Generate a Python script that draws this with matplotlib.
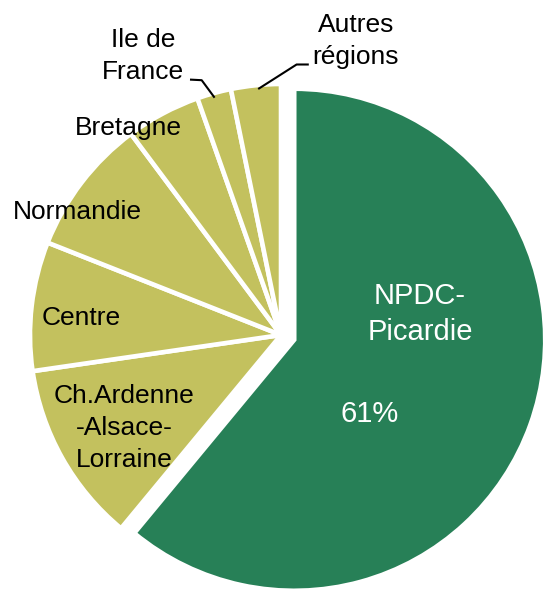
import matplotlib
matplotlib.use("Agg")
import matplotlib.pyplot as plt

# Region shares (%), clockwise from 12 o'clock
regions = ["NPDC-\nPicardie", "Ch.Ardenne\n-Alsace-\nLorraine", "Centre", "Normandie",
           "Bretagne", "Ile de\nFrance", "Autres\nrégions"]
shares = [61, 11.7, 8.3, 8.8, 4.8, 2.2, 3.2]

green = "#278057"
olive = "#C3C15E"
colors = [green] + [olive] * (len(shares) - 1)
explode = [0.056] + [0] * (len(shares) - 1)

W, H = 545, 589
CX, CY, R = 281, 335, 251  # pie centre / radius in pixels


def px(x, y):
    # pixel (from top-left) -> data coords
    return (x - CX) / R, (CY - y) / R


plt.rcParams["font.family"] = ["Liberation Sans", "DejaVu Sans"]

fig = plt.figure(figsize=(W / 100, H / 100), dpi=100)
ax = fig.add_axes([0, 0, 1, 1])

ax.pie(shares, explode=explode, colors=colors, startangle=90, counterclock=False,
       wedgeprops=dict(edgecolor="white", linewidth=3.3))
ax.set_aspect("auto")
ax.set_xlim(-CX / R, (W - CX) / R)
ax.set_ylim(-(H - CY) / R, CY / R)
ax.axis("off")

# label positions (centre x, baseline of last line)
label_pos = [(420, 340), (124, 467), (81, 325), (77, 219), (128, 135), (143, 79.5), (356, 64.5)]
for name, (x, y), i in zip(regions, label_pos, range(len(regions))):
    if i == 0:
        ax.text(*px(x, y), name, ha="center", va="baseline", fontsize=21,
                color="white", linespacing=1.38)
    else:
        ax.text(*px(x, y), name, ha="center", va="baseline", fontsize=19,
                color="black", linespacing=1.43)

ax.text(*px(370, 422.5), f"{shares[0]:.0f}%", ha="center", va="baseline",
        fontsize=21, color="white")

# leader lines for the small slices
leaders = [
    [(190, 79.6), (201.7, 80.2), (214.6, 97.7)],
    [(308.8, 64.5), (296.6, 64.5), (258.2, 89)],
]
for pts in leaders:
    xs, ys = zip(*[px(x, y) for x, y in pts])
    ax.plot(xs, ys, color="black", lw=1.5, solid_capstyle="butt")

fig.savefig("out.png", dpi=100)
